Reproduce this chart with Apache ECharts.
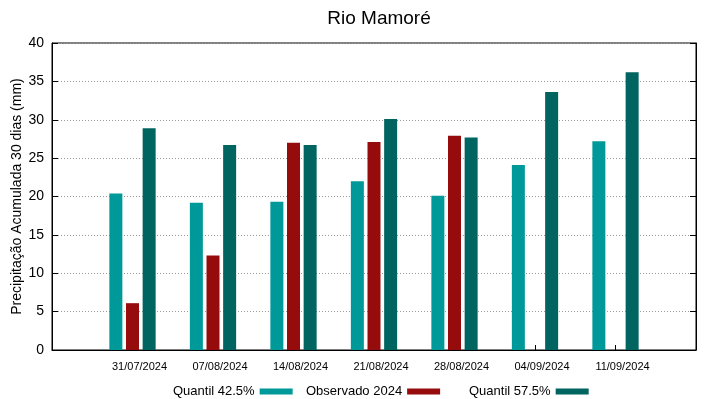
<!DOCTYPE html>
<html>
<head>
<meta charset="utf-8">
<script src="https://cdn.jsdelivr.net/npm/echarts@6/dist/echarts.min.js"></script>
<style>
  html, body { margin: 0; padding: 0; background: #fff; }
  #chart { width: 719px; height: 399px; }
</style>
</head>
<body>
<div id="chart"></div>
<script>
// datas
var datas = ["31/07/2024", "07/08/2024", "14/08/2024", "21/08/2024", "28/08/2024", "04/09/2024", "11/09/2024"];
var quantil425 = [20.4, 19.2, 19.3, 22.0, 20.1, 24.1, 27.2];
var observado2024 = [6.1, 12.3, 27.0, 27.1, 27.9, null, null];
var quantil575 = [28.9, 26.7, 26.7, 30.1, 27.7, 33.6, 36.2];
var yTicks = [0, 5, 10, 15, 20, 25, 30, 35, 40];

var nomes = ["Quantil 42.5%", "Observado 2024", "Quantil 57.5%"];
var cores = ["#009999", "#960c0c", "#006461"];

// uma categoria vazia em cada ponta, como no gnuplot
var eixoX = [""].concat(datas, [""]);
function pad (arr) {
  return [null].concat(arr, [null]);
}

var myChart = echarts.init(document.getElementById("chart"));
var fonte = "Liberation Sans, Arial, sans-serif";

var option = {
  backgroundColor: "#fff",
  animation: false,
  textStyle: { fontFamily: fonte },
  title: {
    text: "Rio Mamoré",
    left: 374,
    top: 4,
    textAlign: "center",
    textStyle: { fontSize: 19, fontWeight: "normal", color: "#000", fontFamily: fonte },
  },
  grid: {
    left: 52,
    right: 23,
    top: 43,
    bottom: 49,
    outerBoundsMode: "none",
    containLabel: false,
    show: true,
    borderColor: "#000",
    borderWidth: 1,
  },
  legend: [0, 1, 2].map(function (i) {
    return {
      data: [nomes[i]],
      left: [168, 301, 464][i],
      top: 380,
      align: "right",
      icon: "rect",
      itemWidth: 33,
      itemHeight: 6,
      textStyle: { fontSize: 13, color: "#000", fontFamily: fonte },
    };
  }),
  xAxis: {
    type: "category",
    data: eixoX,
    boundaryGap: false,
    axisLine: { lineStyle: { color: "#000" } },
    axisTick: { inside: true, length: 5, lineStyle: { color: "#000" } },
    axisLabel: {
      fontSize: 11,
      color: "#000",
      margin: 11,
      padding: [0, 0, 0, 14],
      interval: 0,
    },
    splitLine: { show: false },
  },
  yAxis: [
    {
      type: "value",
      min: yTicks[0],
      max: yTicks[yTicks.length - 1],
      interval: 5,
      name: "Precipitação Acumulada 30 dias (mm)",
      nameLocation: "middle",
      nameGap: 28,
      nameMoveOverlap: false,
      nameTextStyle: { fontSize: 14, color: "#000", fontFamily: fonte },
      axisLine: { show: true, lineStyle: { color: "#000" } },
      axisTick: { show: true, inside: true, length: 6, lineStyle: { color: "#000" } },
      axisLabel: { fontSize: 14, color: "#000", margin: 8 },
      splitLine: { show: true, lineStyle: { color: "#999", type: [1, 2] } },
    },
    {
      type: "value",
      position: "right",
      min: yTicks[0],
      max: yTicks[yTicks.length - 1],
      interval: 5,
      axisLine: { show: true, lineStyle: { color: "#000" } },
      axisTick: { show: true, inside: true, length: 6, lineStyle: { color: "#000" } },
      axisLabel: { show: false },
      splitLine: { show: false },
    },
  ],
  series: [quantil425, observado2024, quantil575].map(function (valores, i) {
    return {
      name: nomes[i],
      type: "bar",
      barWidth: 13,
      barGap: "28%",
      itemStyle: { color: cores[i] },
      data: pad(valores),
    };
  }),
};

option && myChart.setOption(option);
</script>
</body>
</html>
